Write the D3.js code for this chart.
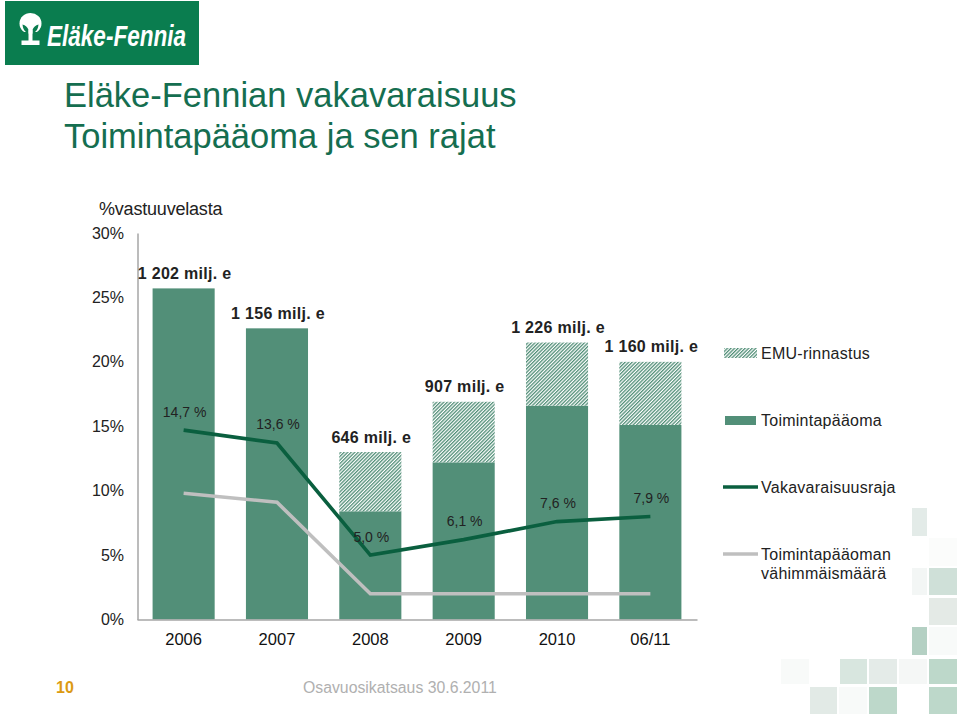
<!DOCTYPE html>
<html><head><meta charset="utf-8">
<script src="https://cdn.jsdelivr.net/npm/d3@7"></script>
<style>
html,body{margin:0;padding:0;background:#fff}
svg{display:block}
text{font-family:"Liberation Sans",Arial,sans-serif}
</style></head><body>
<svg id="c" width="960" height="716"></svg>
<script>
const categories=["2006","2007","2008","2009","2010","06/11"];
const capital=[25.7,22.6,8.4,12.2,16.6,15.1];
const emu=[0,0,4.6,4.7,4.9,4.9];
const solvencyLimit=[14.7,13.7,5.0,6.2,7.6,8.0];
const minimumCapital=[9.8,9.1,2.0,2.0,2.0,2.0];
const totalLabels=["1 202 milj. e","1 156 milj. e","646 milj. e","907 milj. e","1 226 milj. e","1 160 milj. e"];
const limitLabels=["14,7 %","13,6 %","5,0 %","6,1 %","7,6 %","7,9 %"];
const yTicks=[0,5,10,15,20,25,30];
const legendItems=["EMU-rinnastus","Toimintapääoma","Vakavaraisuusraja"];

const GREEN="#528f78",DARK="#0a5f3f",GREY="#bfbfbf",TITLE="#156e50";
const svg=d3.select("#c");
const defs=svg.append("defs");
const pat=defs.append("pattern").attr("id","hatch").attr("patternUnits","userSpaceOnUse")
  .attr("width",2.5).attr("height",2.5).attr("patternTransform","rotate(45)");
pat.append("rect").attr("width",2.5).attr("height",2.5).attr("fill","#fff");
pat.append("rect").attr("width",1.3).attr("height",2.5).attr("fill",GREEN);

// background squares
const squares=[[912,508,15,28,"#e3ebe8"],[929,538,28,28,"#fbfcfb"],[912,568,15,27,"#f3f6f5"],[929,568,28,27,"#cfe0d8"],
[929,598,28,27,"#e4eae6"],[912,627,15,28,"#b4d0c3"],[929,627,28,28,"#f8faf9"],
[781,659,28,25,"#f8faf9"],[840,659,27,25,"#d8e6df"],[869,659,28,25,"#e4ebe8"],[899,659,28,25,"#f5f7f6"],[929,659,28,25,"#bdd8ca"],
[810,687,27,27,"#e2eae6"],[839,687,28,27,"#f8faf9"],[869,687,28,27,"#bdd8ca"],[929,687,28,27,"#bdd8ca"]];
svg.append("g").selectAll("rect").data(squares).join("rect")
 .attr("x",d=>d[0]).attr("y",d=>d[1]).attr("width",d=>d[2]).attr("height",d=>d[3]).attr("fill",d=>d[4]);

// logo
const logo=svg.append("g");
const LG="#0a7d4f";
logo.append("rect").attr("x",5).attr("y",1).attr("width",194).attr("height",64).attr("fill",LG);
logo.append("ellipse").attr("cx",30.5).attr("cy",23.5).attr("rx",11).attr("ry",10.5).attr("fill","#fff");
logo.append("path").attr("d","M22.5 24.5Q27 25.5 28.5 30V32H26Q23 30 22.5 24.5ZM38.5 24.5Q34 25.5 32.5 30V32H35Q38 30 38.5 24.5Z").attr("fill",LG);
logo.append("rect").attr("x",24).attr("y",32).attr("width",4.5).attr("height",3).attr("fill",LG);
logo.append("rect").attr("x",32.5).attr("y",32).attr("width",4.5).attr("height",3).attr("fill",LG);
logo.append("rect").attr("x",28.5).attr("y",30).attr("width",4).attr("height",11).attr("fill","#fff");
logo.append("rect").attr("x",21.5).attr("y",40.5).attr("width",18).attr("height",4.5).attr("fill","#fff");
logo.append("text").attr("x",47).attr("y",46).attr("fill","#fff").attr("font-size",30).attr("font-weight","bold").attr("font-style","italic")
 .attr("textLength",139).attr("lengthAdjust","spacingAndGlyphs").style("font-family","'Liberation Sans Narrow','Liberation Sans',sans-serif").text("Eläke-Fennia");

// titles
svg.append("text").attr("x",64).attr("y",107).attr("font-size",34.5).attr("fill",TITLE).text("Eläke-Fennian vakavaraisuus");
svg.append("text").attr("x",64).attr("y",148).attr("font-size",34.5).attr("fill",TITLE).text("Toimintapääoma ja sen rajat");
svg.append("text").attr("x",99).attr("y",215).attr("font-size",18).attr("fill","#222").attr("letter-spacing","-0.2").text("%vastuuvelasta");

// scales
const x=d3.scaleBand().domain(categories).range([137,697]).paddingInner(0.335).paddingOuter(0.167);
const y=d3.scaleLinear().domain([0,30]).range([619.5,233]);
const cx=c=>x(c)+x.bandwidth()/2;

// axes
const yAx=d3.axisLeft(y).tickValues(yTicks).tickFormat(d=>d+"%").tickSize(0).tickPadding(13.5);
const gy=svg.append("g").attr("transform","translate(137.5,0)").call(yAx);
gy.select(".domain").attr("stroke","#a6a6a6").attr("stroke-width",1.5);
gy.selectAll("text").attr("font-size",16).attr("fill","#222").style("font-family","'Liberation Sans',sans-serif");
const xAx=d3.axisBottom(x).tickSize(0).tickPadding(14);

// bars
svg.append("g").selectAll("rect").data(categories).join("rect")
 .attr("x",c=>x(c)).attr("width",x.bandwidth()).attr("y",(c,i)=>y(capital[i])).attr("height",(c,i)=>y(0)-y(capital[i])).attr("fill",GREEN);
svg.append("g").selectAll("rect").data(categories.filter((c,i)=>emu[i]>0)).join("rect")
 .attr("x",c=>x(c)).attr("width",x.bandwidth())
 .attr("y",c=>{const i=categories.indexOf(c);return y(capital[i]+emu[i]);})
 .attr("height",c=>{const i=categories.indexOf(c);return y(capital[i])-y(capital[i]+emu[i]);})
 .attr("fill","url(#hatch)");

const gx=svg.append("g").attr("transform","translate(0,619.5)").call(xAx);
gx.select(".domain").attr("stroke","#a6a6a6").attr("stroke-width",1.5);
gx.selectAll("text").attr("font-size",16.5).attr("fill","#111").style("font-family","'Liberation Sans',sans-serif");

// lines
const line=d3.line().x((d,i)=>cx(categories[i])).y(d=>y(d));
svg.append("path").attr("d",line(minimumCapital)).attr("fill","none").attr("stroke",GREY).attr("stroke-width",3.6);
svg.append("path").attr("d",line(solvencyLimit)).attr("fill","none").attr("stroke",DARK).attr("stroke-width",3.6);

// labels
svg.append("g").selectAll("text").data(categories).join("text")
 .attr("x",c=>cx(c)+1).attr("y",(c,i)=>y(capital[i]+emu[i])-9.5)
 .attr("text-anchor","middle").attr("font-size",16).attr("font-weight","bold").attr("fill","#222").attr("letter-spacing","0.3")
 .text((c,i)=>totalLabels[i]);
svg.append("g").selectAll("text").data(categories).join("text")
 .attr("x",c=>cx(c)+1).attr("y",(c,i)=>y(solvencyLimit[i])-13.5)
 .attr("text-anchor","middle").attr("font-size",14).attr("fill","#222")
 .text((c,i)=>limitLabels[i]);

// legend
const L=svg.append("g");
L.append("rect").attr("x",724).attr("y",348).attr("width",33).attr("height",10).attr("fill","url(#hatch)");
L.append("rect").attr("x",725).attr("y",416).attr("width",31).attr("height",9).attr("fill",GREEN);
L.append("line").attr("x1",723).attr("x2",758).attr("y1",487).attr("y2",487).attr("stroke",DARK).attr("stroke-width",3.6);
L.append("line").attr("x1",723).attr("x2",758).attr("y1",554).attr("y2",554).attr("stroke",GREY).attr("stroke-width",3.6);
const lt=(t,yy)=>L.append("text").attr("x",761).attr("y",yy).attr("font-size",16).attr("fill","#222").attr("letter-spacing","0.25").text(t);
lt(legendItems[0],359);lt(legendItems[1],426);lt(legendItems[2],493);
lt("Toimintapääoman",560);lt("vähimmäismäärä",579);

// footer
svg.append("text").attr("x",56).attr("y",692.5).attr("font-size",16).attr("font-weight","bold").attr("fill","#dc9a12").text("10");
svg.append("text").attr("x",303).attr("y",693).attr("font-size",15.8).attr("fill","#b0b0b0").text("Osavuosikatsaus 30.6.2011");
</script></body></html>
